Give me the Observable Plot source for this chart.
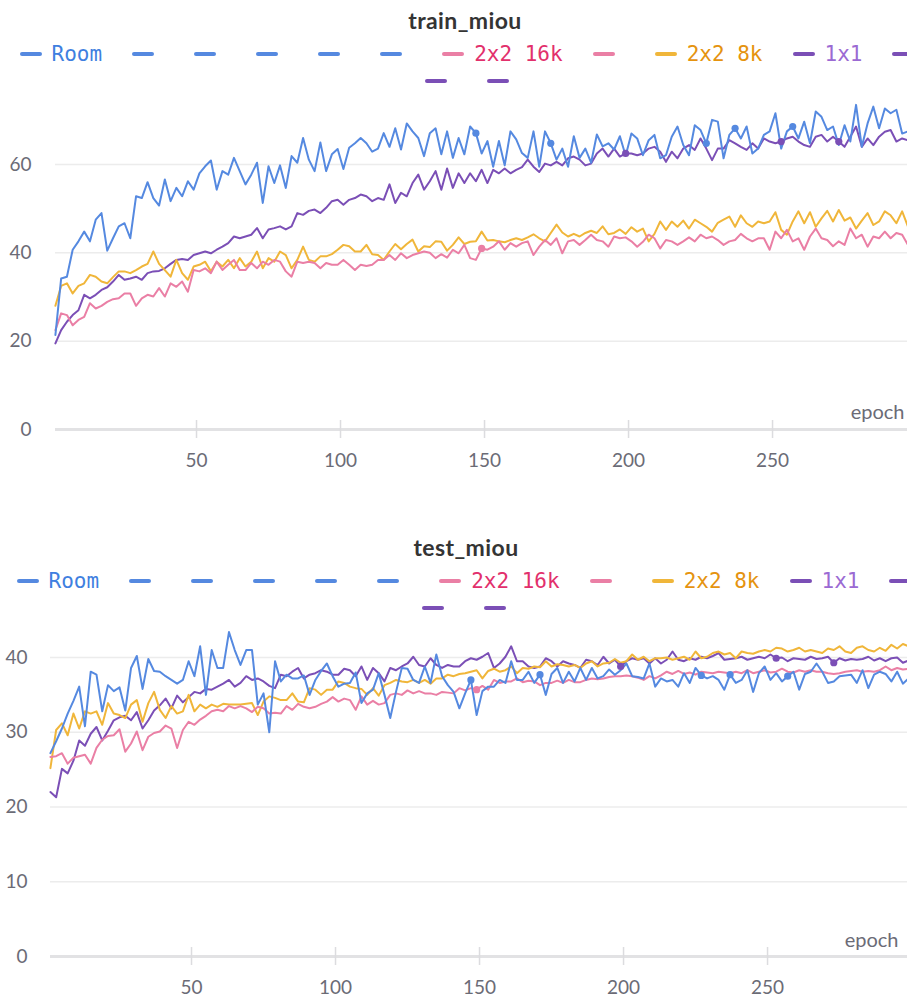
<!DOCTYPE html>
<html><head><meta charset="utf-8">
<script src="https://cdn.jsdelivr.net/npm/d3@7"></script>
<script src="https://cdn.jsdelivr.net/npm/@observablehq/plot@0.6"></script>
<style>
html,body{margin:0;padding:0;background:#fff;overflow:hidden;width:907px;height:999px;}
.panel{position:absolute;left:0;width:907px;height:480px;}
.title{position:absolute;top:6px;left:0;text-align:center;font:700 23px Lato,sans-serif;line-height:28px;color:#343434;letter-spacing:0.4px;}
.legend{position:absolute;top:40px;width:940px;display:flex;flex-wrap:wrap;justify-content:center;font:21px "DejaVu Sans Mono",monospace;}
.item{display:flex;align-items:center;height:27px;padding:0 15px;}
.dash{width:22px;height:4px;border-radius:2px;}
.lab{margin-left:10px;white-space:pre;}
.chart{position:absolute;top:90px;left:0;}
</style></head>
<body>
<div class="panel" id="p1" style="top:0"></div>
<div class="panel" id="p2" style="top:527px"></div>
<script>
// sampled epochs (every second epoch)
const epochs = d3.range(1, 300, 2);
const seriesNames = ["Room", "2x2 16k", "2x2 8k", "1x1"];
const lineColors = ["#5589e0", "#ea7fa5", "#f0b63a", "#7b4fb6"];
const labelColors = ["#3f7fe0", "#e2306c", "#e5930f", "#9b6ad3"];
const legendEntries = [["Room",0],["",0],["",0],["",0],["",0],["",0],["2x2 16k",1],["",1],["2x2 8k",2],["1x1",3],["",3],["",3],["",3]];

const xTicks = [50, 100, 150, 200, 250];
const trainTicks = [0, 20, 40, 60];
const testTicks = [0, 10, 20, 30, 40];

// train_miou
const trainRoom = [21.4,34.2,34.6,40.7,42.6,44.8,42.6,47.5,49,40.5, 43.3,46,46.7,43.3,52.8,52.4,56,52.4,50.7,56.6, 51.7,54.7,52.8,56.2,54.3,58,59.6,60.9,54.3,58.5, 57.7,61.5,58.5,55.5,57.7,60.4,51.3,59.6,55.8,59.8, 54.7,61.9,60.4,66,61.1,58.5,65,58.5,62.3,63.5,
 59,63.8,64.8,66,64.8,62.9,63.6,67.1,64,68.2, 63.4,69.3,67.5,66,61.9,67.1,68.2,62.3,67.5,61.5, 66,62.3,68.6,67.1,62.5,65.3,59.5,65.3,59.8,67.5, 65.7,62.6,61.5,67.5,59.5,67.5,64.8,61.1,63.6,59.5, 66.4,61.5,63.6,60.4,66.8,64.1,64.8,63.4,66.4,62,
 67,65.9,62.1,65.5,66.7,61.4,62.1,66.3,68.6,64.4, 62.1,68.9,67.8,64.8,70.1,69.7,61.4,66.7,68.2,65.9, 68.6,62.5,63.6,66.7,67.5,71.6,63.6,67.5,68.6,65.9, 69.7,64.8,72,70.8,67.8,68.6,64.4,68.9,65.2,73.5, 64,69.3,73.1,68.2,72.7,71.6,72.4,67,67.5,66];
const train16k = [22.5,26.3,25.9,23.6,24.8,25.5,28.6,27.4,28,28.9, 29.5,29.7,30.8,30.8,28,29.7,30.5,30.1,32,30.1, 33.1,32.3,33.5,31.2,36.1,35.8,36.5,35.4,38,36.1, 37.3,38.4,36.1,36.1,37.7,36.5,38,37.3,38.4,38, 35.8,34.6,38,37.7,38,37.7,36.5,37.7,37.3,37.3,
 38.4,37.3,36.1,37.3,37,37.3,38.4,38.4,39.5,38.4, 39.9,38.8,39.5,39.9,40.3,40,38.8,39.7,38.9,40.7, 39.9,41.8,38.8,38.4,41,40.7,41.4,42.6,40.7,42.2, 41.4,42.2,42.6,39.5,41.4,42.9,41.8,43.3,39.9,42.6, 42.9,41.8,42.9,44.1,42.9,42.6,41.4,43.7,43.3,43.5,
 42.6,41.4,42.5,44.1,43.3,41,42.9,42.6,41.8,42.6, 43.5,42.6,44.1,43.3,43.7,42.9,41.8,42.6,42.9,44.3, 43.3,42.6,43.3,43.3,40.7,44.8,43.3,45.2,42.6,43.3, 40.7,43.7,45.5,43.3,42.9,41.5,42.6,41.8,45.5,43.3, 44.1,41.4,43.7,43.3,44.8,43.3,44.5,44.1,41.8,43.5];
const train8k = [28,32.5,33.1,30.8,32.5,33.1,35,34.6,33.5,33.1, 34.5,35.8,35.8,35.4,36.1,36.9,37.5,40.3,37.5,36.1, 34.6,38.4,35.4,33.9,36.9,37.3,38,35.8,38,36.9, 38.4,36.5,38.8,36.9,38,40.3,36.5,38.8,38,40.3, 39.5,36.5,38.4,41.4,38.4,38,39.2,39.2,39.7,40.7,
 41.8,41.5,40.3,40.3,41.8,39.7,39.5,38.4,40.3,42, 40.8,42,43,40.3,41.5,41.3,42.6,42.5,40.5,41.8, 43.5,42,42.5,42.6,44.8,42.8,42.9,42.6,42.4,42.9, 43.3,42.9,43.5,44.2,43.3,42.6,44.5,46.4,44.6,43.7, 44.3,43.7,44.5,45,44.5,46,44.2,44.5,45.3,44.3,
 45.8,44.8,45.5,42.6,44.3,47.1,45.2,47.1,45.9,47.3, 45.5,47.5,46.7,45.9,44.8,46.8,47.5,48.2,45.9,48.5, 46.7,45.9,47.1,46.7,47.1,49.2,45.2,44.1,47.1,49.4, 46.7,49.2,45.9,47.8,49.5,47.1,49.7,47.3,48,45.5, 47.3,49,46.3,47.1,49.4,48.5,46.7,49.4,46,47.5];
const train1x1 = [19.5,22.5,24.4,25.9,27,30.5,29.7,30.5,31.6,32.2, 33.5,35,33.9,34.2,34.6,33.9,35.4,35.8,35.9,36.5, 37.5,38.4,38.6,38.4,39.5,39.9,40.3,39.9,40.7,41.4, 42.2,43.7,43.3,43.7,44.1,45.6,43.3,45.3,45.6,46, 45.3,46,49,48.6,49.5,49.8,49,50.2,51.7,52,
 50.9,52,52.4,53.2,52.8,51.7,52.4,52,55.5,51.3, 53.6,52.8,55.8,57.7,54.3,56.2,58.5,54.3,59.1,54.7, 58,55.8,58,56.2,58.8,55.8,58.8,58,59.1,58, 58.8,59.4,61.1,59.5,58.3,60.2,59.8,60.6,59.8,61.4, 61.8,61.1,59.8,60.2,62.5,63.6,61.8,63.6,61.8,62.5,
 62.5,62.1,62.5,63.6,64,62.9,60.6,62.9,61.4,63.6, 64.4,63.3,65.9,63.6,61,63.6,63.6,65.5,64.8,64, 63.3,64.8,63.6,65.9,65.2,64.8,65.2,65.9,66.3,65.2, 64.4,64,66.3,66.7,65.2,66.3,65.2,64,66.3,68.6, 64,65.9,64.4,66.3,67.4,67.8,65.2,65.9,65.5,65.8];

// test_miou
const testRoom = [27.2,28.8,30.5,32.5,34.2,36.1,30.8,38.1,37.7,32.8, 36.3,35.5,36,32.9,38.6,40.2,35.8,39.8,38.2,38.1, 37.5,37,36.5,37,39.5,37.5,41.5,35,41,38.6, 38.6,43.4,41,39,41,41,33.7,35.2,30,39.5, 36.8,37.7,37.2,37.2,37.6,35,37,38.2,39.2,37.5,
 36.1,36.5,36.6,38,33.9,35.2,35.7,37.9,35,31.9, 35.4,38.6,38.5,37,36.6,38.8,36.6,40.4,37.5,36.3, 35.4,33.2,35.2,37,32.3,35.5,36.1,36.1,37,36.6, 39.5,37,37,38.1,36.6,37.7,35,37.8,38.6,36.6, 38.1,36.8,38.6,37,38.6,37.2,37.5,38.4,37.7,38.3,
 39.2,37.5,37.4,37.2,39.2,36.1,37.2,36.8,37,36.1, 37.9,36.6,38.6,37.6,37.2,37.5,37,35.7,37.7,36.6, 37,38.3,35.4,37.9,38.8,37,37.9,36.8,37.5,38.1, 35.7,37.8,38.1,39.2,38.1,36.6,36.8,37.5,37.6,37.7, 36.6,38.3,35.9,37.7,38.1,37.8,36.8,38.1,36.5,37.2];
const test16k = [26.7,26.8,27.2,25.8,26.6,26.8,27,25.8,27.9,29, 29.5,29.6,30.4,27.4,28.5,30.1,27.6,29.4,29.9,30.1, 30.9,30.5,27.9,30.3,31.4,31,31.7,32.2,32.8,33, 32.8,33.5,33.2,33.5,33.2,32.7,33.4,33.2,32.5,32.6, 32.5,33.5,33,33.8,33.4,33.2,33.4,33.8,34.1,34.7,
 34.1,34.5,34.3,33,34.8,33.7,34.2,33.7,33.9,35, 35.2,35,35.6,35.2,35.5,35.2,35.2,35,35.4,35.3, 35.2,35.9,35.6,35.9,35.7,36.2,35.7,37,36.6,36.8, 36.8,37.2,36.7,36.9,36.8,36.3,36.6,36.6,36.9,36.6, 37,36.7,36.7,37,37.2,37.1,37.2,37.4,37.5,37.5,
 37.6,37.5,37.3,37,37.5,37.2,37.6,38.1,37.8,38.2, 37.8,38,37.7,38.1,38,37.9,38.1,38,37.9,38.1, 37.9,38.3,37.9,38.1,38.3,38,38.1,38.5,38.1,38, 38.3,38.1,38.3,38.1,38.1,37.9,37.8,37.9,38.1,38.2, 38.3,38.1,38.2,38.1,38.3,38.8,38.3,38.6,38.4,38.5];
const test8k = [25.2,30.3,31.2,29.6,32.5,30.5,32.8,32.5,32.8,31, 33.9,32.5,32.3,31.9,33.7,34.3,31.4,33.9,35.4,33, 31.9,33.5,32.5,32.8,35,32.8,33.7,33.2,33.7,33.4, 33.8,33.7,33.7,33.7,33.8,33.9,32.3,34.1,34.8,34.6, 34.3,34.3,35.2,34.1,34,35.9,35.7,35,35.7,35.7,
 36.8,36.6,36.1,35.9,35.8,35,35.9,34.9,36.3,36.6, 37,36.8,36.7,37,36.6,37,36.5,37.2,37.2,37.7, 37.5,37.8,37.9,38.1,38.3,37.2,38.2,38.5,38.1,38.3, 38.8,37.9,38.6,38.5,38.8,38.7,39.5,38.8,39.1,39, 38.8,39,38.6,39.2,39.5,38.8,39.2,39.3,39.8,39.3,
 39.5,40.4,39.7,40.1,39.5,39.9,39.9,40,39.7,39.9, 40.1,39.7,40.8,39.9,40.1,40.6,40.8,40.4,40.6,39.9, 40.8,40.6,40.5,40.8,41,40.8,41.3,41.2,40.8,41, 41.3,40.8,41,40.8,40.6,41.2,41,41.5,40.8,40.6, 41.3,41.5,41,40.8,41.3,40.9,41.7,41.2,41.8,41.5];
const test1x1 = [22,21.3,25.1,24.5,26.2,28.9,28.2,29.8,30.7,28.9, 30.2,31.6,32,32.2,31.6,32.7,30.5,31.6,32.9,33.6, 34.5,33.2,34.9,34,34.7,35.4,35.2,35.8,35.7,36.1, 36.5,37,36.1,36.6,37.5,37,37.2,36.8,36.2,35.9, 37.7,37.5,38.1,38.6,37.2,37.7,37.9,38.3,38.1,37.7,
 37.7,38.5,38.3,37.5,38.8,37,38.6,37.9,36.8,38.6, 38.3,38.8,39.2,40.1,39,38.8,39.9,39,38.6,39, 38.8,38.8,39.5,39.9,39.7,40.1,40.6,38.6,39.2,40.1, 41.5,39.5,39.5,38.8,38.6,38.8,39.9,39.5,38.8,39.5, 39.2,39,38.6,39.7,39.5,39,40.1,39.2,39.7,38.8,
 39.5,39.9,39.7,39.9,39.2,39.9,39.2,39.7,40.8,39.7, 39.5,39.9,39.7,40.1,39.9,40.2,40.6,39.7,39.8,39.9, 40.1,39.7,39.9,40.1,39.9,40.4,39.9,40,39.5,39.9, 39.8,39.7,40.1,39.8,39.9,40.1,39.3,39.9,39.6,39.8, 39.7,39.8,40.1,39.6,39.9,39.5,39.9,40,39.3,39.6];

// epochs that carry a highlighted point marker
const dotEpochsRoom = [147, 173, 227, 237, 257];
const dotEpochsRoomTest = [147, 171, 227, 237, 257];
const dotEpochs1x1 = [199, 253, 273];
const dotEpochs16k = [149];

const FONT = "Lato, sans-serif";
const GRAY = "#6b6b76";

function buildLegend(panel, left) {
  const lg = document.createElement("div");
  lg.className = "legend";
  lg.style.left = left + "px";
  for (const [label, ci] of legendEntries) {
    const it = document.createElement("div"); it.className = "item";
    const d = document.createElement("span"); d.className = "dash"; d.style.background = lineColors[ci];
    const t = document.createElement("span"); t.className = "lab"; t.style.color = labelColors[ci]; t.textContent = label;
    it.appendChild(d); it.appendChild(t); lg.appendChild(it);
  }
  panel.appendChild(lg);
}

function buildPanel(id, cfg) {
  const panel = document.getElementById(id);
  const title = document.createElement("div");
  title.className = "title"; title.style.width = cfg.titleWidth + "px"; title.textContent = cfg.title;
  panel.appendChild(title);
  buildLegend(panel, cfg.legendLeft);

  const series = cfg.series; // in legend order
  const drawOrder = [3, 2, 1, 0];
  const marks = [
    Plot.ruleY(cfg.yTicks.filter(d => d !== 0), {stroke: "#ececec", strokeWidth: 1.5}),
    Plot.ruleY([0], {stroke: "#e2e2e4", strokeWidth: 3}),
    Plot.axisX(xTicks, {tickSize: 18, tickPadding: 15, stroke: "#dcdcdf", strokeWidth: 1.5, fill: GRAY, fontSize: 19, fontFamily: FONT}),
    Plot.axisY(cfg.yTicks, {tickSize: 0, tickPadding: cfg.yPad, fill: GRAY, fontSize: 19, fontFamily: FONT})
  ];
  for (const si of drawOrder) {
    const vals = series[si];
    marks.push(Plot.line(vals, {x: (d, i) => epochs[i], y: d => d, stroke: lineColors[si], strokeWidth: 2}));
  }
  for (const [si, eps] of cfg.dots) {
    const vals = series[si];
    marks.push(Plot.dot(eps, {x: d => d, y: d => vals[(d - 1) / 2], r: 3.6, fill: lineColors[si], stroke: "none"}));
  }
  marks.push(Plot.text(["epoch"], {text: d => d, frameAnchor: "bottom-right", textAnchor: "end", lineAnchor: "middle", dx: cfg.epochDx, dy: cfg.epochDy, fill: GRAY, fontSize: 20, fontFamily: FONT}));

  const svg = Plot.plot({
    width: 907, height: 390,
    marginLeft: cfg.marginLeft, marginRight: 0, marginTop: 0, marginBottom: 60,
    style: {fontFamily: FONT, fontSize: "19px", color: GRAY, background: "transparent", overflow: "hidden"},
    x: {domain: [1, 297], range: cfg.xRange, axis: null},
    y: {domain: cfg.yDomain, range: cfg.yRange, axis: null},
    marks
  });
  const wrap = document.createElement("div"); wrap.className = "chart";
  wrap.appendChild(svg);
  panel.appendChild(wrap);
}

buildPanel("p1", {
  title: "train_miou", titleWidth: 930, legendLeft: 2,
  series: [trainRoom, train16k, train8k, train1x1],
  yTicks: trainTicks, yDomain: [0, 60], yRange: [339, 74], yPad: 24,
  marginLeft: 55, xRange: [54.9, 907.4],
  dots: [[0, dotEpochsRoom], [3, dotEpochs1x1], [1, dotEpochs16k]],
  epochDx: -3, epochDy: -8
});
buildPanel("p2", {
  title: "test_miou", titleWidth: 932, legendLeft: -1,
  series: [testRoom, test16k, test8k, test1x1],
  yTicks: testTicks, yDomain: [0, 40], yRange: [339, 40], yPad: 23,
  marginLeft: 50, xRange: [49.9, 902.4],
  dots: [[0, dotEpochsRoomTest], [3, dotEpochs1x1], [1, dotEpochs16k]],
  epochDx: -9, epochDy: -7
});
</script>
</body></html>
